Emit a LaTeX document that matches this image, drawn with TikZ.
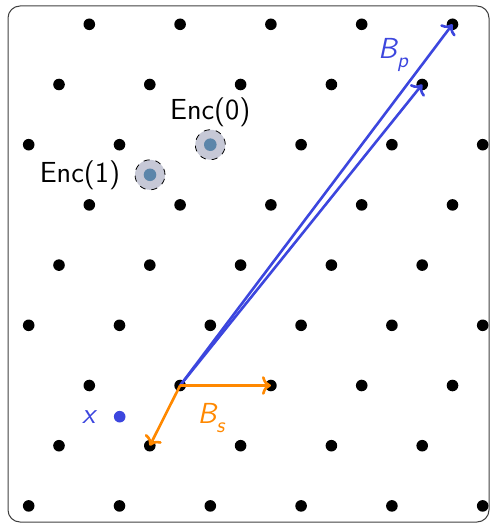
\documentclass[tikz,border=0pt]{standalone}
\usepackage{fontspec}
\usepackage{tikz}
\usetikzlibrary{arrows.meta,positioning}
\definecolor{vecblue}{RGB}{60,70,222}
\definecolor{vecorange}{RGB}{255,136,0}
\definecolor{encgray}{RGB}{198,200,214}
\definecolor{encblue}{RGB}{92,134,170}
\newcommand{\subs}[1]{\raisebox{-0.3em}{\fontsize{10.5}{12}\selectfont\slshape #1}}

\begin{document}
\begin{tikzpicture}[x=0.5pt,y=-0.5pt,
  dot/.style={circle,fill=black,inner sep=0pt,minimum size=5.8pt},
  enc/.style={circle,draw=black,dashed,fill=encgray,inner sep=0pt,minimum size=15pt,line width=0.4pt},
  core/.style={circle,fill=encblue,inner sep=0pt,minimum size=6.3pt},
  lbl/.style={font=\sffamily\fontsize{14.5}{17}\selectfont,inner sep=1pt},
  vec/.style={->,line width=1.3pt}]
\useasboundingbox (0,0) rectangle (490,524);
\draw[rounded corners=6pt,line width=0.5pt,black!75] (8,6) rectangle (489,522);
% lattice points
\foreach \r in {0,...,8}{
  \pgfmathsetmacro\xs{89.3-30.3*mod(\r,3)}
  \foreach \c in {0,...,5}{
    \pgfmathsetmacro\xx{\xs+90.8*\c}
    \ifdim\xx pt<487pt \node[dot] (p-\r-\c) at (\xx,24.3+60.2*\r) {}; \fi
  }
}
% encodings
\node[enc] (e0) at (p-2-2) {};
\node[core] at (e0) {};
\node[enc] (e1) at (150,174.8) {};
\node[core] at (e1) {};
\node[lbl,above=0pt of e0] (l0) {Enc(0)};
\node[lbl,left=6pt of e1] (l1) {Enc(1)};
% target point
\node[dot,fill=vecblue] (x) at (119.7,416.7) {};
\node[lbl,left=8pt of x,text=vecblue] (lx) {\slshape x};
% bases
\draw[vec,vecblue] (p-6-1.center) -- (p-0-4.center);
\draw[vec,vecblue] (p-6-1.center) -- (p-1-4.center);
\draw[vec,vecorange] (p-6-1.center) -- (p-6-2.center);
\draw[vec,vecorange] (p-6-1.center) -- (p-7-1.center);
\node[lbl,text=vecorange] (ls) at (211,418) {\slshape B\subs{s}};
\node[lbl,text=vecblue] (lp) at (393,55) {\slshape B\subs{p}};
\end{tikzpicture}
\end{document}
